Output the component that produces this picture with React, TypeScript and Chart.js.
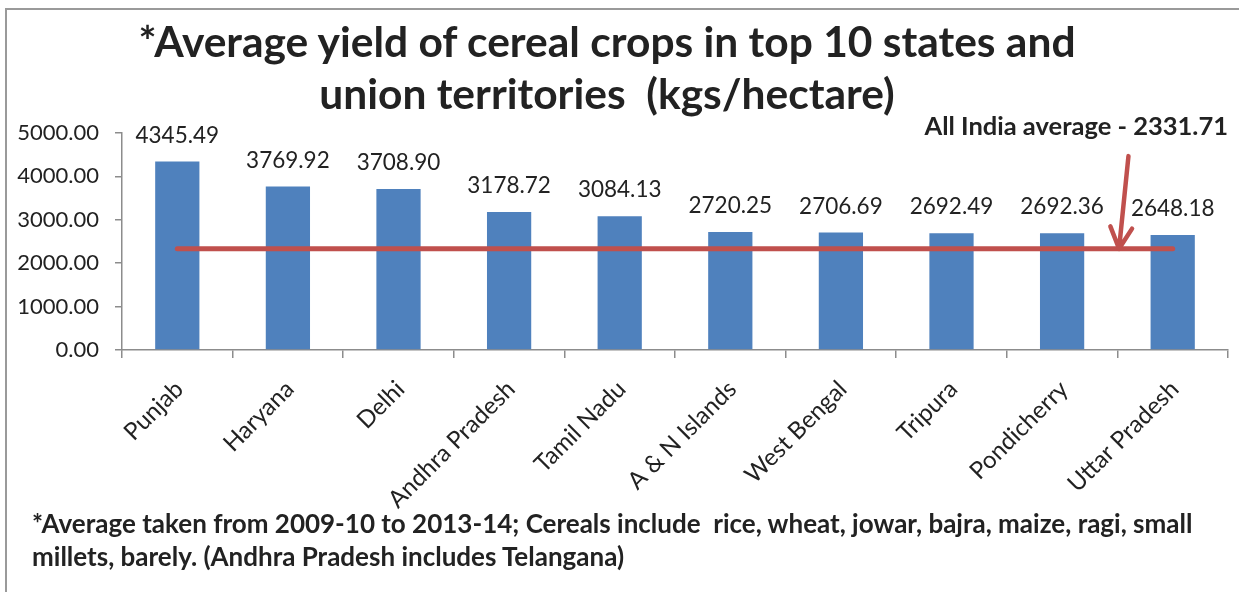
import React, { useEffect, useRef } from 'react';
import { Chart, registerables } from 'chart.js';

Chart.register(...registerables);

// ---- data ----
const categories = [
  'Punjab',
  'Haryana',
  'Delhi',
  'Andhra Pradesh',
  'Tamil Nadu',
  'A & N Islands',
  'West Bengal',
  'Tripura',
  'Pondicherry',
  'Uttar Pradesh',
];
const yields = [4345.49, 3769.92, 3708.9, 3178.72, 3084.13, 2720.25, 2706.69, 2692.49, 2692.36, 2648.18];
const indiaAverage = 2331.71;
const averageLine = categories.map(() => indiaAverage);

const titleLines = ['*Average yield of cereal crops in top 10 states and', 'union territories  (kgs/hectare)'];
const averageLabel = 'All India average - 2331.71';
const footnoteLines = [
  '*Average taken from 2009-10 to 2013-14; Cereals include  rice, wheat, jowar, bajra, maize, ragi, small',
  'millets, barely. (Andhra Pradesh includes Telangana)',
];

// arrow annotation, in data coordinates (category index, value)
const arrowFrom = { x: 8.6, y: 4467 };
const arrowTo = { x: 8.515, y: indiaAverage };

const TEXT = '#222222';
const AXIS = '#8c8c8c';
const FONT = 'Lato, "Open Sans", sans-serif';

const valueLabels = {
  id: 'valueLabels',
  afterDatasetsDraw(chart: any) {
    const ctx = chart.ctx;
    const meta = chart.getDatasetMeta(0);
    ctx.save();
    ctx.font = `22.5px ${FONT}`;
    ctx.fillStyle = TEXT;
    ctx.textAlign = 'center';
    ctx.textBaseline = 'middle';
    meta.data.forEach((el: any, i: number) => {
      ctx.fillText(yields[i].toFixed(2), el.x, el.y - 26);
    });
    ctx.restore();
  },
};

const arrowPlugin = {
  id: 'arrowPlugin',
  afterDatasetsDraw(chart: any) {
    const { x: xs, y: ys } = chart.scales;
    const x1 = xs.getPixelForValue(arrowFrom.x);
    const y1 = ys.getPixelForValue(arrowFrom.y);
    const x2 = xs.getPixelForValue(arrowTo.x);
    const y2 = ys.getPixelForValue(arrowTo.y);
    const ctx = chart.ctx;
    const ang = Math.atan2(y2 - y1, x2 - x1);
    const len = 24;
    const spread = (27 * Math.PI) / 180;
    ctx.save();
    ctx.strokeStyle = '#C0504D';
    ctx.lineWidth = 4.5;
    ctx.lineCap = 'round';
    ctx.lineJoin = 'round';
    ctx.beginPath();
    ctx.moveTo(x1, y1);
    ctx.lineTo(x2, y2);
    ctx.moveTo(x2 - len * Math.cos(ang - spread), y2 - len * Math.sin(ang - spread));
    ctx.lineTo(x2, y2);
    ctx.lineTo(x2 - len * Math.cos(ang + spread), y2 - len * Math.sin(ang + spread));
    ctx.stroke();
    ctx.restore();
  },
};

export default function App() {
  const ref = useRef<HTMLCanvasElement>(null);

  useEffect(() => {
    if (!ref.current) return;
    const chart = new Chart(ref.current, {
      type: 'bar',
      data: {
        labels: categories,
        datasets: [
          {
            type: 'bar',
            data: yields,
            backgroundColor: '#4F81BD',
            barPercentage: 0.4,
            categoryPercentage: 1,
            order: 1,
          },
          {
            type: 'line',
            data: averageLine,
            borderColor: '#C0504D',
            borderWidth: 5,
            borderCapStyle: 'round',
            pointRadius: 0,
            fill: false,
            order: 0,
          } as any,
        ],
      },
      options: {
        responsive: false,
        animation: false,
        devicePixelRatio: 1,
        layout: { padding: { top: 133, right: 11, left: 0, bottom: 0 } },
        plugins: {
          legend: { display: false },
          tooltip: { enabled: false },
          title: { display: false },
        },
        scales: {
          x: {
            offset: true,
            grid: { offset: true, drawOnChartArea: false, tickLength: 8, color: AXIS, lineWidth: 1.5 },
            border: { color: AXIS, width: 1.5 },
            ticks: {
              autoSkip: false,
              minRotation: 45,
              maxRotation: 45,
              padding: 17,
              labelOffset: 2,
              color: TEXT,
              font: { family: FONT, size: 24 },
            },
            afterFit(s: any) {
              s.height = 242;
            },
          },
          y: {
            min: 0,
            max: 5000,
            ticks: {
              stepSize: 1000,
              padding: 16,
              color: TEXT,
              font: { family: FONT, size: 22 },
              callback: (v: any) => Number(v).toFixed(2),
            },
            grid: { drawOnChartArea: false, tickLength: 7, color: AXIS, lineWidth: 1.5 },
            border: { color: AXIS, width: 1.5 },
            afterFit(s: any) {
              s.width = 122;
            },
          },
        },
      },
      plugins: [valueLabels, arrowPlugin],
    });
    return () => chart.destroy();
  }, []);

  const lato = (fs: number, lh: number) => (lh - 1.2 * fs) / 2 + 0.987 * fs;

  return (
    <div
      style={{
        position: 'fixed',
        left: 0,
        top: 0,
        width: 1239,
        height: 592,
        background: '#ffffff',
        overflow: 'hidden',
        fontFamily: FONT,
        color: TEXT,
      }}
    >
      <div
        style={{
          position: 'absolute',
          left: 5,
          top: 8,
          width: 1400,
          height: 800,
          borderTop: '2px solid #9a9a9a',
          borderLeft: '2px solid #9a9a9a',
        }}
      />
      <canvas ref={ref} width={1239} height={592} style={{ position: 'absolute', left: 0, top: 0 }} />
      <div
        style={{
          position: 'absolute',
          left: 0,
          width: 1214,
          top: 57 - lato(42.5, 52),
          textAlign: 'center',
          fontWeight: 700,
          fontSize: 42.5,
          lineHeight: '52px',
          whiteSpace: 'pre',
        }}
      >
        {titleLines.map((l, i) => (
          <div key={i}>{l}</div>
        ))}
      </div>
      <div
        style={{
          position: 'absolute',
          right: 11,
          top: 136 - lato(25.5, 25.5),
          fontWeight: 700,
          fontSize: 25.5,
          lineHeight: '25.5px',
          whiteSpace: 'pre',
        }}
      >
        {averageLabel}
      </div>
      <div
        style={{
          position: 'absolute',
          left: 32,
          top: 534 - lato(26, 33),
          fontWeight: 700,
          fontSize: 26,
          lineHeight: '33px',
          whiteSpace: 'pre',
        }}
      >
        {footnoteLines.map((l, i) => (
          <div key={i}>{l}</div>
        ))}
      </div>
    </div>
  );
}
